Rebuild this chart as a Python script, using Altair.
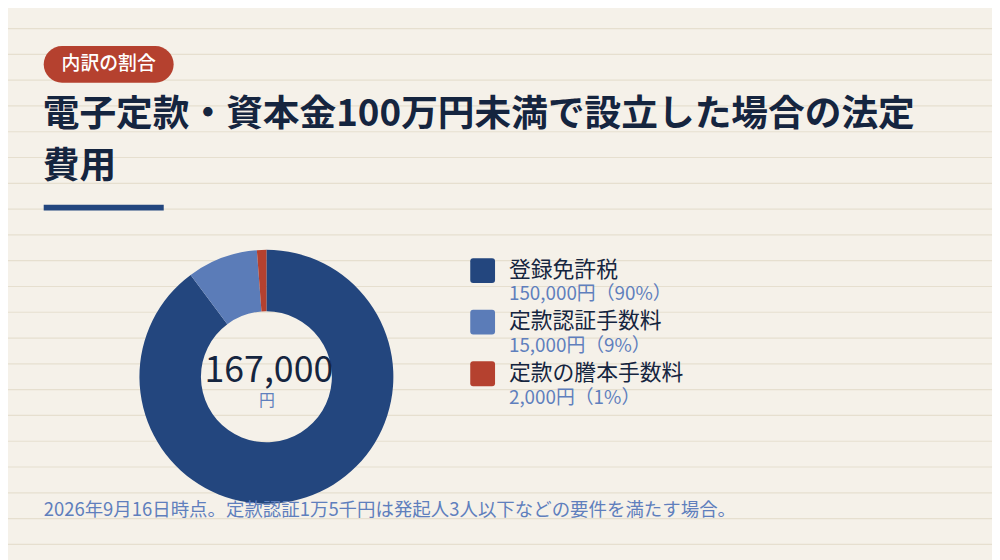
import altair as alt
import pandas as pd

# ---- data ----
categories = ["登録免許税", "定款認証手数料", "定款の謄本手数料"]
amounts = [150000, 15000, 2000]
amount_labels = ["150,000円（90%）", "15,000円（9%）", "2,000円（1%）"]
colors = ["#23467e", "#5b7cb8", "#b5412f"]
total_label = "167,000"
total_unit = "円"
badge_text = "内訳の割合"
title_lines = ["電子定款・資本金100万円未満で設立した場合の法定", "費用"]
footnote = "2026年9月16日時点。定款認証1万5千円は発起人3人以下などの要件を満たす場合。"

# ---- styles ----
W, H = 992, 552
BG = "#f5f1e9"
LINE = "#e6dfcf"
NAVY = "#15253f"
LIGHT = "#5f7fbd"
FONT = "Noto Sans CJK JP"

df = pd.DataFrame({
    "cat": categories,
    "amount": amounts,
    "label": amount_labels,
    "row": list(range(len(categories))),
})
bg = pd.DataFrame({"k": list(range(0, 22))})
titles = pd.DataFrame({"line": title_lines, "i": list(range(len(title_lines)))})

color_scale = alt.Scale(domain=categories, range=colors)

bg_rules = alt.Chart(bg).mark_rule(color=LINE, strokeWidth=1.2).encode(
    y=alt.Y("k:Q", scale=alt.Scale(domain=[0, 21], range=[-7.5, 538.5], nice=False, zero=False), axis=None),
    x=alt.value(0), x2=alt.value(W),
)

badge = alt.Chart(pd.DataFrame({"t": [badge_text]})).mark_rect(
    color="#b5412f", cornerRadius=18.5
).encode(x=alt.value(36), x2=alt.value(167), y=alt.value(36), y2=alt.value(73))

badge_lbl = alt.Chart(pd.DataFrame({"t": [badge_text]})).mark_text(
    color="white", fontSize=19, fontWeight=500, font=FONT, align="center", baseline="middle"
).encode(x=alt.value(101.5), y=alt.value(54.5), text="t:N")

title = alt.Chart(titles).mark_text(
    align="left", baseline="middle", fontSize=37, fontWeight="bold", color=NAVY, font=FONT
).encode(
    x=alt.value(35),
    y=alt.Y("i:Q", scale=alt.Scale(domain=[0, 1], range=[106, 158], nice=False, zero=False), axis=None),
    text="line:N",
)

underline = alt.Chart(pd.DataFrame({"t": [0]})).mark_rect(color="#23467e").encode(
    x=alt.value(36), x2=alt.value(157), y=alt.value(196), y2=alt.value(202)
)

donut = alt.Chart(df).mark_arc(radius=128, innerRadius=66).encode(
    theta=alt.Theta("amount:Q", stack=True),
    color=alt.Color("cat:N", scale=color_scale, legend=None),
    order=alt.Order("row:Q"),
    x=alt.value(260.5),
    y=alt.value(369.5),
)

center_num = alt.Chart(pd.DataFrame({"t": [total_label]})).mark_text(
    fontSize=36, color=NAVY, font=FONT, align="center", baseline="middle"
).encode(x=alt.value(263), y=alt.value(364), text="t:N")

center_unit = alt.Chart(pd.DataFrame({"t": [total_unit]})).mark_text(
    fontSize=16, color=LIGHT, font=FONT, align="center", baseline="middle"
).encode(x=alt.value(261), y=alt.value(394), text="t:N")

leg_scale = alt.Scale(domain=[0, 2], range=[262.5, 366.5], nice=False, zero=False)
sq_path = ("M -0.76 -1 L 0.76 -1 Q 1 -1 1 -0.76 L 1 0.76 Q 1 1 0.76 1 "
           "L -0.76 1 Q -1 1 -1 0.76 L -1 -0.76 Q -1 -1 -0.76 -1 Z")

leg_sq = alt.Chart(df).mark_point(shape=sq_path, filled=True, size=625, opacity=1, strokeWidth=0).encode(
    x=alt.value(478.5),
    y=alt.Y("row:Q", scale=leg_scale, axis=None),
    color=alt.Color("cat:N", scale=color_scale, legend=None),
)

leg_lbl = alt.Chart(df).mark_text(
    align="left", baseline="middle", fontSize=22, color=NAVY, font=FONT, dy=-1
).encode(x=alt.value(505), y=alt.Y("row:Q", scale=leg_scale, axis=None), text="cat:N")

leg_sub = alt.Chart(df).mark_text(
    align="left", baseline="middle", fontSize=19, color=LIGHT, font=FONT, dy=24
).encode(x=alt.value(505), y=alt.Y("row:Q", scale=leg_scale, axis=None), text="label:N")

note = alt.Chart(pd.DataFrame({"t": [footnote]})).mark_text(
    align="left", baseline="middle", fontSize=18.6, color=LIGHT, font=FONT
).encode(x=alt.value(36), y=alt.value(504), text="t:N")

chart = alt.layer(
    bg_rules, badge, badge_lbl, title, underline, donut, center_num, center_unit,
    leg_sq, leg_lbl, leg_sub, note
).resolve_scale(y="independent").properties(
    width=W, height=H, background=BG, padding=0,
    autosize=alt.AutoSizeParams(type="none"),
).configure_view(stroke=None)

chart.save("out.html", embed_options={"renderer": "svg", "actions": False})
